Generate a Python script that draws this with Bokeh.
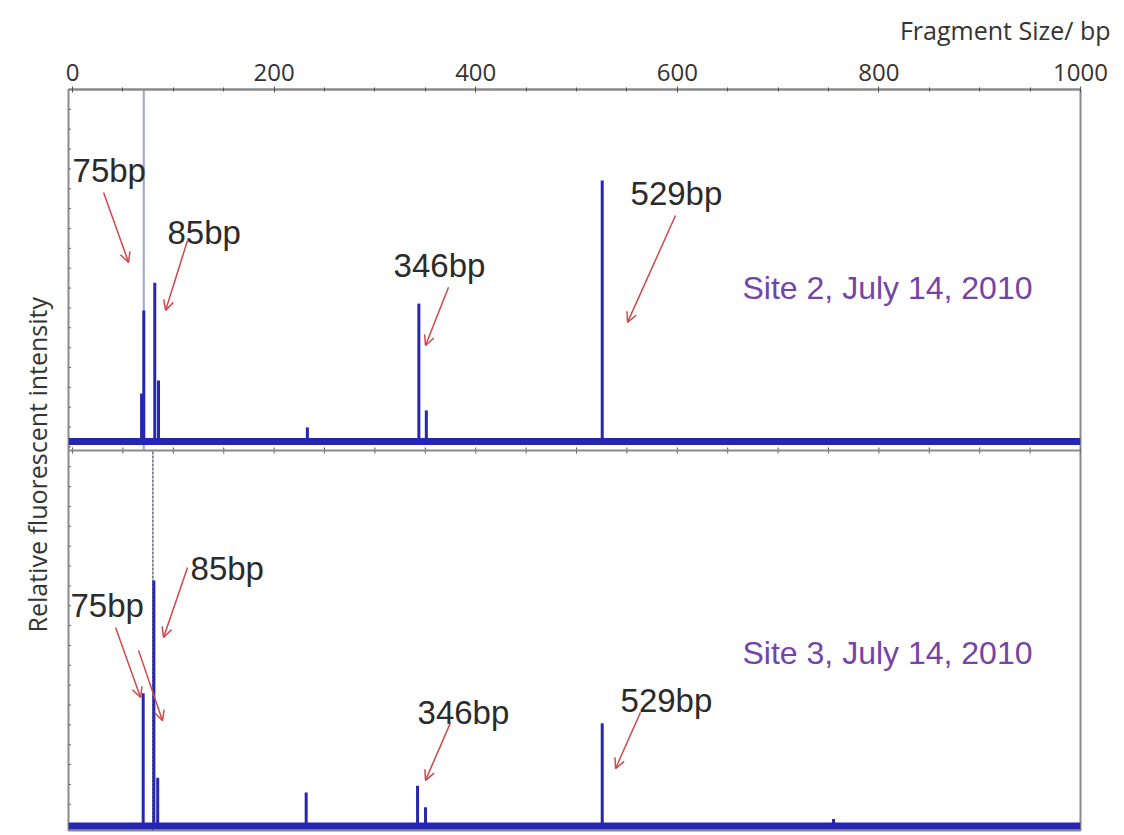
import math
from bokeh.plotting import figure
from bokeh.models import Range1d, Label, Arrow, OpenHead, Span, FixedTicker, ColumnDataSource, Title
from bokeh.embed import file_html
from bokeh.resources import INLINE

# ---------------- data ----------------
x_ticks = [0, 200, 400, 600, 800, 1000]
x_tick_labels = ["0", "200", "400", "600", "800", "1000"]
x_minor_ticks = [0, 50, 100, 150, 200, 250, 300, 350, 400, 450, 500,
                 550, 600, 650, 700, 750, 800, 850, 900, 950, 1000]

# Site 2 (upper panel): peak positions (bp) and heights (relative units)
site2_bp = [68.5, 70.7, 81.6, 85.3, 233.0, 343.6, 351.0, 525.5]
site2_h = [15.8, 38.8, 46.5, 19.4, 6.4, 40.7, 11.1, 74.8]
site2_baseline = 2.5
site2_marker_bp = 70.7

# Site 3 (lower panel)
site3_bp = [70.1, 80.7, 84.5, 231.8, 342.3, 350.2, 525.5, 755.0]
site3_h = [36.1, 65.8, 13.9, 10.0, 11.8, 6.1, 28.2, 3.0]
site3_baseline = 1.2
site3_marker_bp = 79.7

site2_title = "Site 2, July 14, 2010"
site3_title = "Site 3, July 14, 2010"
x_title = "Fragment Size/ bp"
y_title = "Relative fluorescent intensity"

# annotation labels: (text, x, y) and arrows (x0, y0, x1, y1) in panel units
site2_labels = [("75bp", 0.0, 77.6), ("85bp", 94.2, 60.5), ("346bp", 318.5, 51.2), ("529bp", 553.6, 71.2)]
site2_arrows = [(30.8, 71.5, 55.6, 52.1), (114.1, 58.2, 92.3, 38.8),
                (373.0, 45.2, 350.2, 29.1), (598.2, 65.1, 550.6, 35.5)]
site3_labels = [("85bp", 117.1, 68.9), ("75bp", -2.0, 59.2), ("346bp", 342.3, 31.1), ("529bp", 543.7, 34.2)]
site3_arrows = [(114.1, 69.2, 90.3, 50.8), (42.7, 53.4, 67.5, 35.0), (65.5, 47.4, 89.3, 28.9),
                (375.0, 28.4, 350.2, 13.2), (563.5, 31.1, 538.7, 16.3)]

# ---------------- layout ----------------
W, H = 1120, 833
frame_top, sep, frame_bot = 89, 450, 830  # px
top_px = (sep - frame_top) / 100.0
bot_px = (frame_bot - sep) / 100.0
top_start = -(frame_bot - sep) / top_px
bot_end = 100 + (sep - frame_top) / bot_px
X0, X1 = -4, 1000

BLUE = "#2626b0"
RED = "#d04848"
GREY = "#8a8a8a"
TXT = "#2b2b2b"
PURPLE = "#7444aa"

p = figure(width=W, height=H, output_backend="svg", toolbar_location=None,
           x_range=Range1d(X0, X1), y_range=Range1d(top_start, 100),
           x_axis_location="above", y_axis_location=None,
           min_border_left=68, min_border_right=40, min_border_top=frame_top,
           min_border_bottom=H - frame_bot)
p.extra_y_ranges = {"bot": Range1d(0, bot_end)}
p.grid.visible = False
p.outline_line_color = GREY
p.outline_line_width = 2

xa = p.xaxis[0]
xa.ticker = FixedTicker(ticks=x_ticks, minor_ticks=x_minor_ticks)
xa.major_label_overrides = {t: s for t, s in zip(x_ticks, x_tick_labels)}
xa.axis_line_color = GREY
xa.axis_line_width = 2
xa.major_tick_line_color = "#555555"
xa.minor_tick_line_color = "#555555"
xa.major_tick_in = 3
xa.major_tick_out = 3
xa.minor_tick_in = 2
xa.minor_tick_out = 2
xa.major_label_text_font = "Open Sans"
xa.major_label_text_font_size = "24px"
xa.major_label_text_color = "#333333"
xa.major_label_standoff = 6

p.add_layout(Title(text=x_title, align="right", offset=-30, standoff=23, vertical_align="top",
                   text_font="Open Sans", text_font_size="25px", text_font_style="normal",
                   text_color="#333333"), "above")
p.add_layout(Title(text=y_title, align="left", offset=198, standoff=26, vertical_align="top",
                   text_font="Open Sans", text_font_size="25px", text_font_style="normal",
                   text_color="#333333"), "left")

# left-edge tick marks
y_tick_vals = [100 - 5.5 * i for i in range(38)]
p.scatter([X0] * len(y_tick_vals), y_tick_vals, marker="dash", size=5, color="#666666")

# separator between panels
p.add_layout(Span(location=0, dimension="width", line_color=GREY, line_width=2))
p.scatter(x_minor_ticks, [0] * len(x_minor_ticks), marker="dash", angle=math.pi / 2,
          size=6, color="#555555")

# baselines
p.add_layout(Span(location=site2_baseline, dimension="width", line_color=BLUE, line_width=7))
p.add_layout(Span(location=site3_baseline, dimension="width", line_color=BLUE, line_width=7,
                  y_range_name="bot"))

# marker lines
p.segment(x0=[site2_marker_bp], y0=[0], x1=[site2_marker_bp], y1=[100],
          line_color="#9ea4cc", line_width=2)
p.segment(x0=[site3_marker_bp], y0=[0], x1=[site3_marker_bp], y1=[100],
          line_color="#6a6a78", line_width=1.5, line_dash="3 1", y_range_name="bot")

# peaks
s2 = ColumnDataSource(dict(bp=site2_bp, h=site2_h, base=[site2_baseline] * len(site2_bp)))
s3 = ColumnDataSource(dict(bp=site3_bp, h=site3_h, base=[site3_baseline] * len(site3_bp)))
p.segment(x0="bp", y0="base", x1="bp", y1="h", source=s2, line_color=BLUE, line_width=3)
p.segment(x0="bp", y0="base", x1="bp", y1="h", source=s3, line_color=BLUE, line_width=3,
          y_range_name="bot")

# annotations
for text, x, y in site2_labels:
    p.add_layout(Label(x=x, y=y, text=text, text_font="Liberation Sans", text_font_size="33px",
                       text_baseline="alphabetic", text_color=TXT))
for text, x, y in site3_labels:
    p.add_layout(Label(x=x, y=y, text=text, text_font="Liberation Sans", text_font_size="33px",
                       text_baseline="alphabetic", text_color=TXT, y_range_name="bot"))
for x0, y0, x1, y1 in site2_arrows:
    p.add_layout(Arrow(end=OpenHead(size=10, line_color=RED, line_width=1.5),
                       x_start=x0, y_start=y0, x_end=x1, y_end=y1,
                       line_color=RED, line_width=1.5))
for x0, y0, x1, y1 in site3_arrows:
    p.add_layout(Arrow(end=OpenHead(size=10, line_color=RED, line_width=1.5),
                       x_start=x0, y_start=y0, x_end=x1, y_end=y1,
                       line_color=RED, line_width=1.5, y_range_name="bot"))

p.add_layout(Label(x=664.7, y=44.9, text=site2_title, text_font="Liberation Sans",
                   text_font_size="32px", text_baseline="alphabetic", text_color=PURPLE))
p.add_layout(Label(x=664.7, y=46.6, text=site3_title, text_font="Liberation Sans",
                   text_font_size="32px", text_baseline="alphabetic", text_color=PURPLE,
                   y_range_name="bot"))

open("out.html", "w").write(file_html(p, INLINE))
